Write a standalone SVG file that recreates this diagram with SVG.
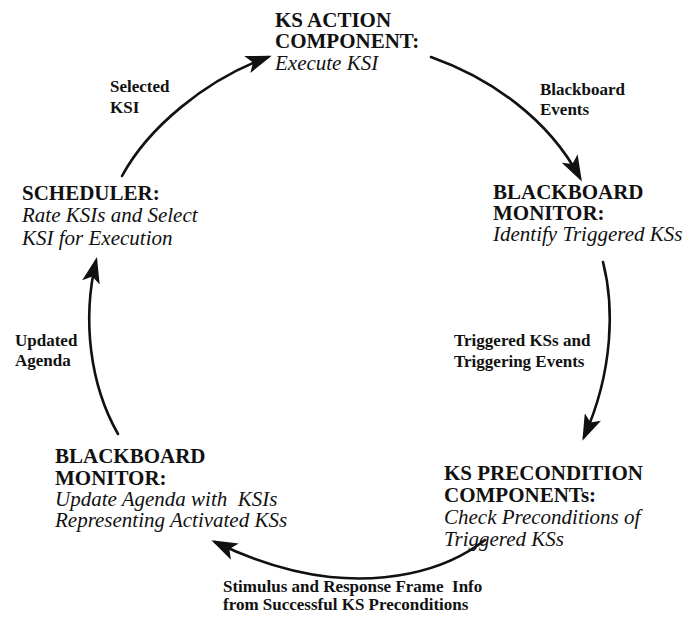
<svg xmlns="http://www.w3.org/2000/svg" width="696" height="626" viewBox="0 0 696 626">
<defs>
<style>
.t{font-family:"Liberation Serif","Times New Roman",serif;fill:#111}
.b{font-weight:bold;font-size:21px}
.i{font-style:italic;font-size:21px}
.l{font-weight:bold;font-size:17px}
.c{fill:none;stroke:#111;stroke-width:2.6;stroke-linecap:round}
</style>
<marker id="ah" markerUnits="userSpaceOnUse" viewBox="0 0 26 18" refX="22" refY="9" markerWidth="26" markerHeight="18" orient="auto">
<path d="M0,0 L26,9 L0,18 L6,9 Z" fill="#111"/>
</marker>
</defs>
<rect width="696" height="626" fill="#fff"/>
<g id="connectors">
<path class="c" marker-end="url(#ah)" d="M122,176 C148,128 205,80 268,57"/>
<path class="c" marker-end="url(#ah)" d="M431,57 C490,78 548,118 580,178"/>
<path class="c" marker-end="url(#ah)" d="M603,262 C614,305 614,370 584,437"/>
<path class="c" marker-end="url(#ah)" d="M485,540 C440,575 380,582 330,577 C285,572 248,558 215,542"/>
<path class="c" marker-end="url(#ah)" d="M118,434 C90,385 82,320 96,261"/>
</g>
<g id="labels">
<text class="t l" x="110" y="92">Selected</text>
<text class="t l" x="110" y="113">KSI</text>
<text class="t l" x="540" y="95">Blackboard</text>
<text class="t l" x="540" y="115">Events</text>
<text class="t l" x="454" y="346">Triggered KSs and</text>
<text class="t l" x="454" y="367">Triggering Events</text>
<text class="t l" x="223" y="592" xml:space="preserve">Stimulus and Response Frame  Info</text>
<text class="t l" x="223" y="610">from Successful KS Preconditions</text>
<text class="t l" x="15" y="346">Updated</text>
<text class="t l" x="15" y="366">Agenda</text>
</g>
<g id="node-ks-action">
<text class="t b" x="275" y="27">KS ACTION</text>
<text class="t b" x="275" y="48">COMPONENT:</text>
<text class="t i" x="275" y="70">Execute KSI</text>
</g>
<g id="node-blackboard-monitor-identify">
<text class="t b" x="493" y="199">BLACKBOARD</text>
<text class="t b" x="493" y="220">MONITOR:</text>
<text class="t i" x="493" y="241">Identify Triggered KSs</text>
</g>
<g id="node-ks-precondition">
<text class="t b" x="444" y="480">KS PRECONDITION</text>
<text class="t b" x="444" y="502">COMPONENTs:</text>
<text class="t i" x="444" y="524">Check Preconditions of</text>
<text class="t i" x="444" y="546">Triggered KSs</text>
</g>
<g id="node-blackboard-monitor-update">
<text class="t b" x="55" y="463">BLACKBOARD</text>
<text class="t b" x="55" y="485">MONITOR:</text>
<text class="t i" x="55" y="506" xml:space="preserve">Update Agenda with  KSIs</text>
<text class="t i" x="55" y="527">Representing Activated KSs</text>
</g>
<g id="node-scheduler">
<text class="t b" x="22" y="200">SCHEDULER:</text>
<text class="t i" x="22" y="222">Rate KSIs and Select</text>
<text class="t i" x="22" y="245">KSI for Execution</text>
</g>
</svg>
